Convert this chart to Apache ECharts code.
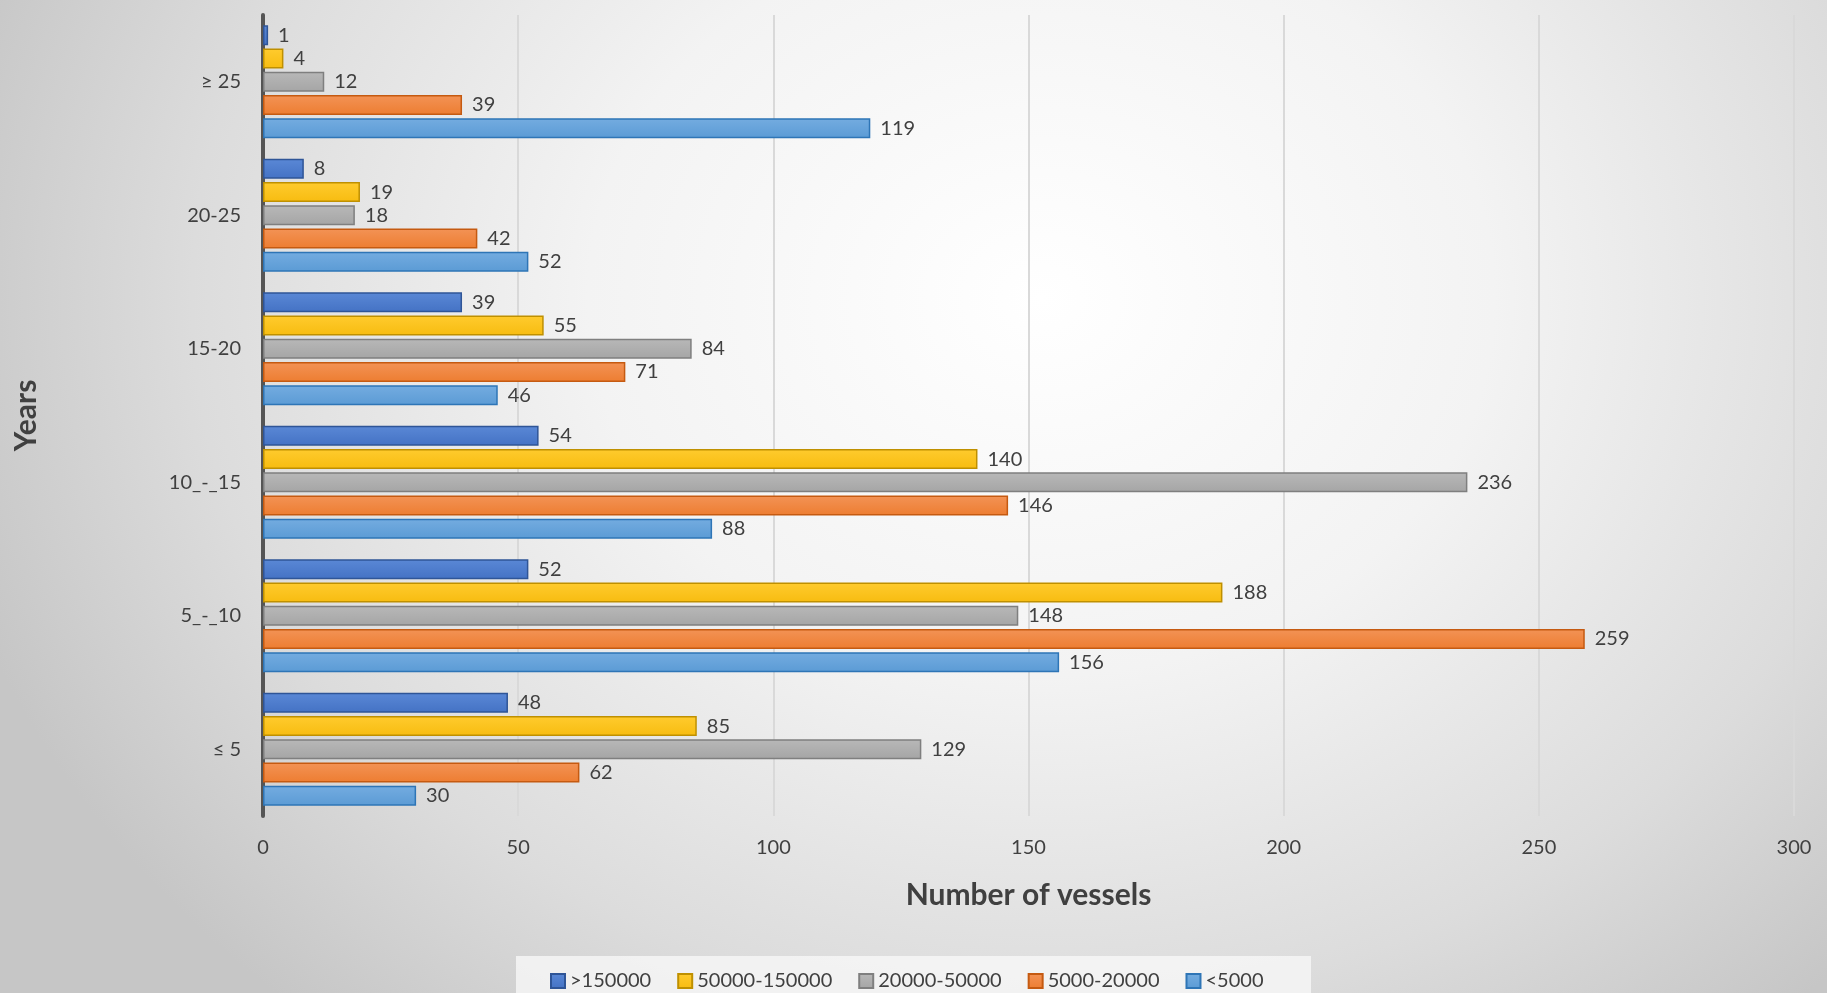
<!DOCTYPE html>
<html>
<head>
<meta charset="utf-8">
<script src="https://cdn.jsdelivr.net/npm/echarts@6/dist/echarts.min.js"></script>
<style>
html,body{margin:0;padding:0;width:1827px;height:993px;overflow:hidden;}
body{background:radial-gradient(ellipse 62% 95% at 57% 30%, #ffffff 0%, #f3f3f3 40%, #dcdcdc 75%, #c6c6c6 100%);}
#c{width:1827px;height:993px;}
</style>
</head>
<body>
<div id="c"></div>
<script>
const categories = ['≥ 25', '20-25', '15-20', '10_-_15', '5_-_10', '≤ 5'];
const seriesNames = ['>150000', '50000-150000', '20000-50000', '5000-20000', '<5000'];
const over150000 = [1, 8, 39, 54, 52, 48];
const from50000to150000 = [4, 19, 55, 140, 188, 85];
const from20000to50000 = [12, 18, 84, 236, 148, 129];
const from5000to20000 = [39, 42, 71, 146, 259, 62];
const under5000 = [119, 52, 46, 88, 156, 30];
const xTicks = [0, 50, 100, 150, 200, 250, 300];

const allData = [over150000, from50000to150000, from20000to50000, from5000to20000, under5000];
const fills = [
  ['#5a88d6', '#4472c4', '#2f5597'],
  ['#ffcb2e', '#f7bc10', '#bf9000'],
  ['#b8b8b8', '#a5a5a5', '#7f7f7f'],
  ['#f39356', '#ed7d31', '#c55a11'],
  ['#74ace0', '#5b9bd5', '#2e75b6']
];
const F = 'Lato, "Open Sans", sans-serif';

const chart = echarts.init(document.getElementById('c'));
chart.setOption({
  backgroundColor: 'transparent',
  animation: false,
  graphic: [{
    type: 'rect', left: 516, top: 956, shape: {width: 795, height: 40},
    style: {fill: 'rgba(248,248,248,0.8)'}, z: 0
  }],
  legend: {
    data: seriesNames,
    left: 545, top: 966,
    itemWidth: 14, itemHeight: 14, itemGap: 26,
    textStyle: {fontFamily: F, fontSize: 20, color: '#404040'},
    icon: 'rect'
  },
  grid: {left: 263, right: 33, top: 15, bottom: 177, containLabel: false},
  xAxis: {
    type: 'value', min: 0, max: 300, interval: 50,
    name: 'Number of vessels', nameLocation: 'middle', nameGap: 64,
    nameTextStyle: {fontFamily: F, fontSize: 30, fontWeight: 'bold', color: '#404040'},
    axisLine: {show: false}, axisTick: {show: false},
    axisLabel: {fontFamily: F, fontSize: 20, color: '#404040', margin: 22},
    splitLine: {show: true, lineStyle: {color: '#d9d9d9', width: 2}}
  },
  yAxis: {
    type: 'category', data: categories, inverse: true,
    name: 'Years', nameLocation: 'middle', nameGap: 222, nameRotate: 90,
    nameTextStyle: {fontFamily: F, fontSize: 30, fontWeight: 'bold', color: '#404040'},
    axisLine: {show: true, lineStyle: {color: '#555555', width: 4}},
    axisTick: {show: false},
    axisLabel: {fontFamily: F, fontSize: 20, color: '#404040', margin: 22}
  },
  series: allData.map((d, i) => ({
    type: 'bar', name: seriesNames[i], data: d,
    barWidth: 20, barGap: '16%', barCategoryGap: '16%',
    itemStyle: {
      color: {type: 'linear', x: 0, y: 0, x2: 0, y2: 1,
        colorStops: [{offset: 0, color: fills[i][0]}, {offset: 1, color: fills[i][1]}]},
      borderColor: fills[i][2], borderWidth: 1.5
    },
    label: {show: true, position: 'right', distance: 10, fontFamily: F, fontSize: 20, color: '#404040'}
  }))
});
</script>
</body>
</html>
